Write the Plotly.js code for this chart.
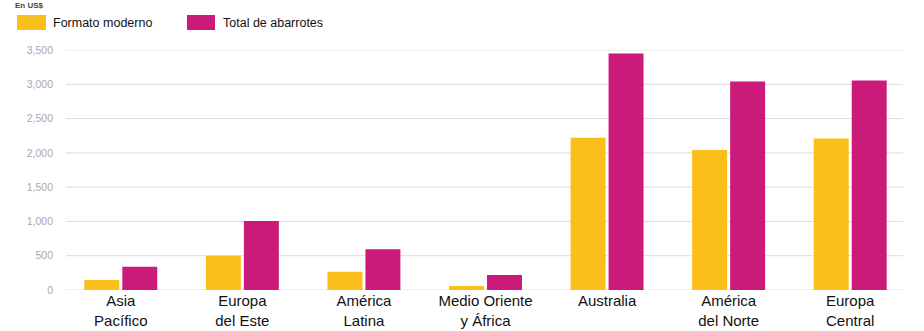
<!DOCTYPE html>
<html>
<head>
<meta charset="utf-8">
<script src="https://cdn.plot.ly/plotly-3.0.1.min.js"></script>
<style>html,body{margin:0;padding:0;background:#fff;}#chart{width:924px;height:331px;}</style>
</head>
<body>
<div id="chart"></div>
<script>
// Data
const categories = ["Asia<br>Pacífico", "Europa<br>del Este", "América<br>Latina", "Medio Oriente<br>y África", "Australia", "América<br>del Norte", "Europa<br>Central"];
const seriesNames = ["Formato moderno", "Total de abarrotes"];
const formatoModerno = [145, 500, 265, 58, 2222, 2040, 2208];
const totalAbarrotes = [338, 1005, 594, 217, 3450, 3040, 3057];
const yTickVals = [0, 500, 1000, 1500, 2000, 2500, 3000, 3500];
const yTickText = ["0", "500", "1,000", "1,500", "2,000", "2,500", "3,000", "3,500"];
const subtitle = "En US$";

const colors = ["#FBBF1B", "#CA1A7A"];
const W = 924, H = 331;
const mL = 60, mR = 13, mT = 50, mB = 41;
const pw = W - mL - mR, ph = H - mT - mB;
const px = x => (x - mL) / pw;
const py = y => (H - mB - y) / ph;

const traces = [
  {type: "bar", name: seriesNames[0], x: categories, y: formatoModerno, marker: {color: colors[0]}, showlegend: false, hoverinfo: "y"},
  {type: "bar", name: seriesNames[1], x: categories, y: totalAbarrotes, marker: {color: colors[1]}, showlegend: false, hoverinfo: "y"}
];

const shapes = yTickVals.map(v => ({
  type: "line", xref: "paper", yref: "y", x0: px(66), x1: px(903), y0: v, y1: v,
  line: {color: "#dcdcdc", width: 1}, layer: "below"
}));
// legend swatches
shapes.push({type: "rect", xref: "paper", yref: "paper", x0: px(17), x1: px(46), y0: py(15), y1: py(30), fillcolor: colors[0], line: {width: 0}});
shapes.push({type: "rect", xref: "paper", yref: "paper", x0: px(187), x1: px(215), y0: py(15), y1: py(30), fillcolor: colors[1], line: {width: 0}});

const annotations = [
  {xref: "paper", yref: "paper", x: px(51), y: py(22.5), xanchor: "left", yanchor: "middle", text: seriesNames[0], showarrow: false, font: {family: "Liberation Sans", size: 12.5, color: "#111"}},
  {xref: "paper", yref: "paper", x: px(221), y: py(22.5), xanchor: "left", yanchor: "middle", text: seriesNames[1], showarrow: false, font: {family: "Liberation Sans", size: 12.5, color: "#111"}},
  {xref: "paper", yref: "paper", x: px(14), y: py(0), xanchor: "left", yanchor: "top", text: "<b>" + subtitle + "</b>", showarrow: false, borderpad: 0, font: {family: "Liberation Sans", size: 8, color: "#444"}}
];

const layout = {
  width: W, height: H,
  margin: {l: mL, r: mR, t: mT, b: mB, pad: 0},
  paper_bgcolor: "#fff", plot_bgcolor: "#fff",
  barmode: "group", bargap: 0.375, bargroupgap: 0.08,
  showlegend: false,
  xaxis: {
    range: [-0.5, 6.5], showgrid: false, zeroline: false, showline: false, ticks: "",
    tickfont: {family: "Liberation Sans", size: 15, color: "#111"}, fixedrange: true
  },
  yaxis: {
    range: [0, 3500], showgrid: false, zeroline: false, showline: false, ticks: "",
    tickvals: yTickVals, ticktext: yTickText, ticklabelstandoff: 6,
    tickfont: {family: "Liberation Sans", size: 10.5, color: "#a8a8a8"}, fixedrange: true
  },
  shapes: shapes,
  annotations: annotations
};

Plotly.newPlot("chart", traces, layout, {displayModeBar: false, staticPlot: true});
</script>
</body>
</html>
